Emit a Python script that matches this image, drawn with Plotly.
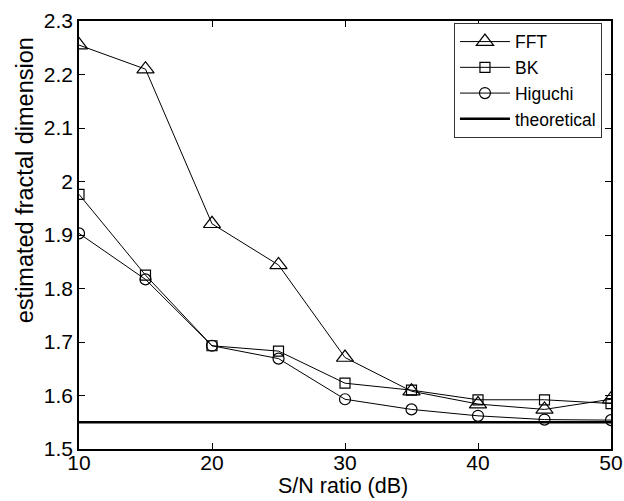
import plotly.graph_objects as go

snr = [10, 15, 20, 25, 30, 35, 40, 45, 50]
fft = [2.255, 2.210, 1.921, 1.844, 1.671, 1.608, 1.584, 1.574, 1.593]
bk = [1.976, 1.825, 1.693, 1.683, 1.623, 1.610, 1.592, 1.592, 1.585]
higuchi = [1.903, 1.817, 1.693, 1.669, 1.593, 1.574, 1.562, 1.555, 1.554]
theoretical_x = [10, 50]
theoretical_y = [1.55, 1.55]

x_ticks = [10, 20, 30, 40, 50]
x_ticktext = ["10", "20", "30", "40", "50"]
y_ticks = [1.5, 1.6, 1.7, 1.8, 1.9, 2.0, 2.1, 2.2, 2.3]
y_ticktext = ["1.5", "1.6", "1.7", "1.8", "1.9", "2", "2.1", "2.2", "2.3"]

font = "Liberation Sans, Arial, sans-serif"

fig = go.Figure()
fig.add_trace(go.Scatter(x=snr, y=fft, name="FFT", mode="lines+markers",
                         line=dict(color="black", width=1),
                         marker=dict(symbol="triangle-up-open", size=15, color="black",
                                     line=dict(width=1.2))))
fig.add_trace(go.Scatter(x=snr, y=bk, name="BK", mode="lines+markers",
                         line=dict(color="black", width=1),
                         marker=dict(symbol="square-open", size=10, color="black",
                                     line=dict(width=1.2))))
fig.add_trace(go.Scatter(x=snr, y=higuchi, name="Higuchi", mode="lines+markers",
                         line=dict(color="black", width=1),
                         marker=dict(symbol="circle-open", size=11, color="black",
                                     line=dict(width=1.2))))
fig.add_trace(go.Scatter(x=theoretical_x, y=theoretical_y, name="theoretical", mode="lines",
                         line=dict(color="black", width=2.5)))

axis_common = dict(showline=True, linecolor="black", linewidth=1.5, mirror="ticks",
                   ticks="inside", ticklen=6, tickcolor="black", showgrid=False,
                   zeroline=False, automargin=False,
                   tickfont=dict(family=font, size=21, color="black"))

fig.update_layout(
    width=624, height=501,
    margin=dict(l=79, r=13, t=21, b=52),
    paper_bgcolor="white", plot_bgcolor="white",
    font=dict(family=font, color="black"),
    showlegend=True,
    legend=dict(x=0.983, y=0.996, xanchor="right", yanchor="top",
                bordercolor="#333", borderwidth=1, bgcolor="white",
                font=dict(family=font, size=17.5, color="black"),
                tracegroupgap=0, itemwidth=50),
    xaxis=dict(range=[10, 50], tickvals=x_ticks, ticktext=x_ticktext,
               ticklabelstandoff=-6, **axis_common),
    yaxis=dict(range=[1.5, 2.3], tickvals=y_ticks, ticktext=y_ticktext, **axis_common),
    annotations=[
        dict(text="estimated fractal dimension", textangle=-90,
             xref="paper", yref="paper", x=-0.1015, y=0.628,
             xanchor="center", yanchor="middle", showarrow=False,
             font=dict(family=font, size=23.5, color="black")),
        dict(text="S/N ratio (dB)",
             xref="paper", yref="paper", x=0.497, y=-0.087,
             xanchor="center", yanchor="middle", showarrow=False,
             font=dict(family=font, size=21.5, color="black")),
    ],
)

fig.write_html("out.html")
